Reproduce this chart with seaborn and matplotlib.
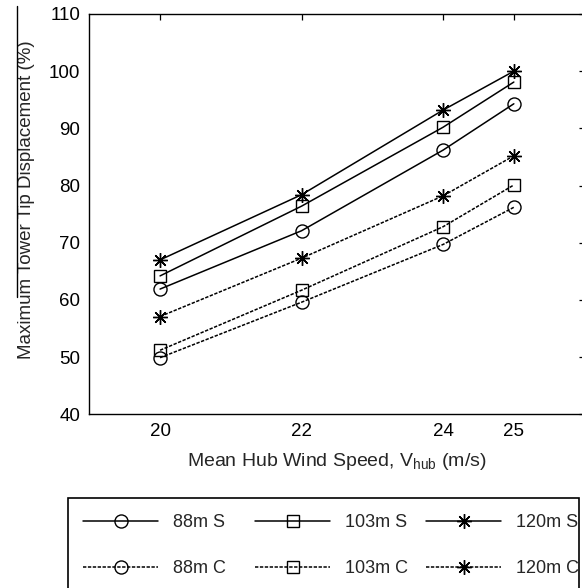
import numpy as np
import pandas as pd
import matplotlib
matplotlib.use("Agg")
import matplotlib.pyplot as plt
from matplotlib.lines import Line2D
from matplotlib.patches import Rectangle
import seaborn as sns

# Mean hub wind speed (m/s)
wind_speed = [20, 22, 24, 25]

# Maximum tower tip displacement (%) per tower height and case
disp_88m_s = [61.9, 72.1, 86.2, 94.3]
disp_103m_s = [64.2, 76.4, 90.2, 98.1]
disp_120m_s = [67.0, 78.4, 93.2, 100.0]
disp_88m_c = [49.9, 59.6, 69.7, 76.2]
disp_103m_c = [51.2, 61.7, 72.8, 80.1]
disp_120m_c = [57.1, 67.3, 78.2, 85.2]

series_labels = ["88m S", "103m S", "120m S", "88m C", "103m C", "120m C"]
series_values = [disp_88m_s, disp_103m_s, disp_120m_s,
                 disp_88m_c, disp_103m_c, disp_120m_c]

x_ticks = [20, 22, 24, 25]
y_ticks = [40, 50, 60, 70, 80, 90, 100, 110]

df = pd.concat(
    [pd.DataFrame({"speed": wind_speed, "disp": vals, "series": lab})
     for lab, vals in zip(series_labels, series_values)],
    ignore_index=True,
)

sns.set_style("white")
plt.rcParams["font.family"] = ["Liberation Sans", "DejaVu Sans"]
plt.rcParams["mathtext.fontset"] = "custom"
plt.rcParams["mathtext.rm"] = "Liberation Sans"

FS = 13.5
W, H = 582, 588

fig = plt.figure(figsize=(W / 100, H / 100), dpi=100)
ax = fig.add_axes([89.3 / W, 1 - 414.3 / H, 495.3 / W, 400.3 / H])

markers = {"88m": "o", "103m": "s", "120m": (8, 2, 0)}
msizes = {"88m": 9.4, "103m": 8.6, "120m": 10.5}
styles = {"S": "-", "C": (0, (2.2, 1.0))}

for lab in series_labels:
    tower, case = lab.split()
    sub = df[df["series"] == lab]
    sns.lineplot(
        data=sub, x="speed", y="disp", ax=ax, color="black",
        marker=markers[tower], markersize=msizes[tower],
        markerfacecolor="none", markeredgecolor="black", markeredgewidth=1.0,
        linestyle=styles[case], linewidth=1.1, label=lab,
    )

handles, labels = ax.get_legend_handles_labels()
ax.get_legend().remove()
hmap = dict(zip(labels, handles))

ax.set_xlim(19, 26)
ax.set_ylim(40, 110)
ax.set_xticks(x_ticks)
ax.set_yticks(y_ticks)
ax.tick_params(direction="in", top=True, right=True, length=4, width=0.9,
               labelsize=FS, pad=6.5, colors="black")
for sp in ax.spines.values():
    sp.set_color("black")
    sp.set_linewidth(1.0)

ax.set_xlabel(r"Mean Hub Wind Speed, V$_{\mathregular{hub}}$ (m/s)",
              fontsize=14, labelpad=8)
ax.set_ylabel("Maximum Tower Tip Displacement (%)", fontsize=FS)
ax.yaxis.set_label_coords(-0.11, 0.535)

# Legend: three columns (one per tower height), solid row above dotted row
fs_px = 13 * 100 / 72
for x0, tower in zip([83, 255, 426], ["88m", "103m", "120m"]):
    labs = [f"{tower} S", f"{tower} C"]
    fig.legend(
        handles=[hmap[l] for l in labs], labels=labs,
        loc="center left", bbox_to_anchor=(x0 / W, 1 - 545.5 / H),
        bbox_transform=fig.transFigure, frameon=False, fontsize=13,
        borderpad=0, borderaxespad=0, handlelength=75 / fs_px,
        handletextpad=15 / fs_px, labelspacing=1.6, numpoints=1,
    )

fig.add_artist(Rectangle((67.7 / W, -0.05), (579.3 - 67.7) / W,
                         (1 - 498.3 / H) + 0.05, transform=fig.transFigure,
                         fill=False, edgecolor="black", linewidth=1.2,
                         clip_on=False))
fig.add_artist(Line2D([17 / W, 17 / W], [1 - 6 / H, 1 - 297 / H],
                      transform=fig.transFigure, color="black", linewidth=1.0))

fig.savefig("out.png", dpi=100, facecolor="white")
